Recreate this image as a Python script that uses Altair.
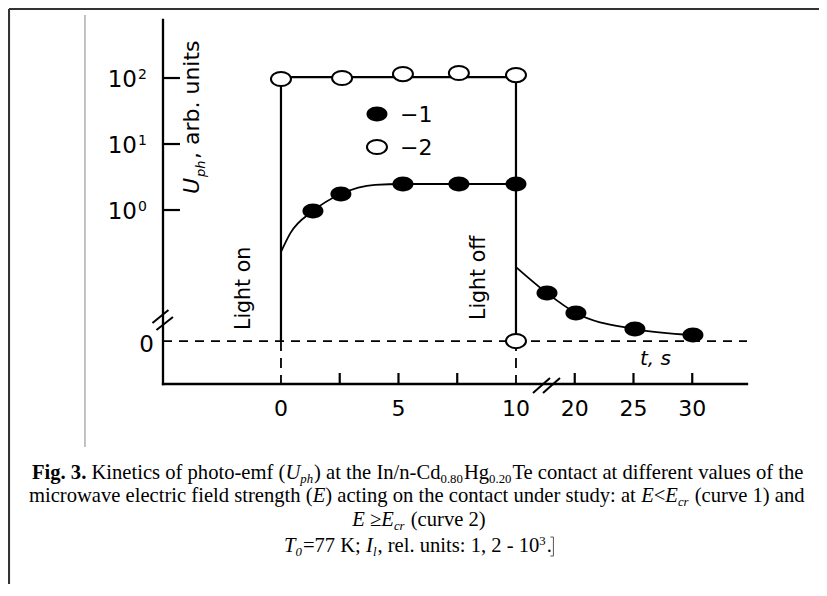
import altair as alt
import pandas as pd

# ---------------- values ----------------
# x: schematic time axis (0..10 s linear, axis break, then 20/25/30 s drawn at 12.5/15/17.5)
# y: schematic U_ph axis in decades (10^0..10^2 -> 0..2); the "0" level sits below a break
ZERO = -1.985
c2_t = [0, 2.6, 5.19, 7.57, 10, 10]                 # curve 2 (open circles)
c2_u = [1.985, 2.0, 2.06, 2.076, 2.045, ZERO]
c2_line_t = [0, 0, 10, 10]
c2_line_u = [ZERO, 2.015, 2.015, ZERO]
c1_t = [1.36, 2.55, 5.19, 7.57, 10, 11.32, 12.55, 15.06, 17.53]   # curve 1 (filled)
c1_u = [-0.015, 0.242, 0.394, 0.394, 0.394, -1.258, -1.561, -1.803, -1.894]
rise_t = [0, 0.4, 1.36, 2.55, 4.0, 5.19, 7.57, 10]
rise_u = [-0.636, -0.35, -0.015, 0.242, 0.38, 0.394, 0.394, 0.394]
decay_t = [10, 11.32, 12.55, 15.06, 17.53]
decay_u = [-0.864, -1.258, -1.561, -1.803, -1.894]
x_label_pos = [0, 5, 10, 12.5, 15, 17.5]
x_label_txt = ["0", "5", "10", "20", "25", "30"]
x_tick_pos = [2.5, 5, 7.5, 12.5, 15, 17.5]
y_tick_pos = [2, 1, 0]
y_tick_exp = ["2", "1", "0"]
legend_lab = ["\u22121", "\u22122"]

# ---------------- scales / helpers ----------------
X_DOMAIN = [-5.02, 19.83]
Y_DOMAIN = [-2.636, 2.879]
xs = alt.Scale(domain=X_DOMAIN, zero=False, nice=False)
ys = alt.Scale(domain=Y_DOMAIN, zero=False, nice=False)

PX0, PXS, PY0, PYS = 281.0, 23.5, 210.0, 66.0
def fx(px): return (px - PX0) / PXS
def fy(py): return (PY0 - py) / PYS

SANS = "DejaVu Sans"
SERIF = "Liberation Serif"
ELL = "M -1 0 A 1 0.71 0 1 0 1 0 A 1 0.71 0 1 0 -1 0 Z"

def X(f="x"): return alt.X(f"{f}:Q", scale=xs, axis=None)
def Y(f="y"): return alt.Y(f"{f}:Q", scale=ys, axis=None)

def segs(rows, width, dash=None, color="black", cap="butt"):
    df = pd.DataFrame(rows, columns=["x", "y", "x2", "y2"])
    kw = dict(color=color, strokeWidth=width, strokeCap=cap)
    if dash:
        kw["strokeDash"] = dash
    return alt.Chart(df).mark_rule(**kw).encode(x=X(), y=Y(), x2="x2:Q", y2="y2:Q")

def path(ts, us, width, interp="linear"):
    df = pd.DataFrame({"x": ts, "y": us, "i": list(range(len(ts)))})
    return alt.Chart(df).mark_line(color="black", strokeWidth=width, interpolate=interp).encode(
        x=X(), y=Y(), order=alt.Order("i:Q"))

def texts(rows, font, align="left", style="normal", weight="normal", angle=0):
    df = pd.DataFrame(rows, columns=["x", "y", "t", "s"])
    return alt.Chart(df).mark_text(font=font, align=align, baseline="alphabetic", fontStyle=style,
                                   fontWeight=weight, angle=angle, color="black").encode(
        x=X(), y=Y(), text="t:N", size=alt.Size("s:Q", scale=None, legend=None))

layers = []
# frame + thin gray line
layers.append(segs([(fx(9), fy(9), fx(840), fy(9)), (fx(9), fy(9), fx(9), fy(610))], 2.2, color="#333333"))
layers.append(segs([(fx(85), fy(15), fx(85), fy(447))], 1.2, color="#9a9a9a"))
# dashed zero level and dashed verticals below it
layers.append(segs([(X_DOMAIN[0], ZERO, X_DOMAIN[1], ZERO)], 1.8, dash=[9, 7]))
layers.append(segs([(0, ZERO, 0, Y_DOMAIN[0]), (10, ZERO, 10, Y_DOMAIN[0])], 1.8, dash=[10, 7]))
# axis lines
layers.append(segs([(X_DOMAIN[0], Y_DOMAIN[0], X_DOMAIN[1], Y_DOMAIN[0]),
                    (X_DOMAIN[0], Y_DOMAIN[0], X_DOMAIN[0], Y_DOMAIN[1])], 2.3, cap="square"))
# inward ticks
layers.append(segs([(X_DOMAIN[0], v, fx(180), v) for v in y_tick_pos], 2.2))
layers.append(segs([(v, Y_DOMAIN[0], v, fy(373)) for v in x_tick_pos], 2.2))
# axis breaks
layers.append(segs([(fx(533), fy(393), fx(550), fy(378)), (fx(543), fy(393), fx(560), fy(378)),
                    (fx(152.5), fy(323), fx(168.5), fy(310)), (fx(156.5), fy(330), fx(173), fy(317))], 2.0))
# curves
layers.append(path(c2_line_t, c2_line_u, 2.2))
layers.append(path(rise_t, rise_u, 1.8, "monotone"))
layers.append(path(decay_t, decay_u, 1.8, "monotone"))

# markers (data + legend markers)
fill_df = pd.DataFrame({"x": c1_t + [fx(377)], "y": c1_u + [fy(114)]})
open_df = pd.DataFrame({"x": c2_t + [fx(377)], "y": c2_u + [fy(147)]})
layers.append(alt.Chart(fill_df).mark_point(shape=ELL, filled=True, size=441, color="black", opacity=1).encode(x=X(), y=Y()))
layers.append(alt.Chart(open_df).mark_point(shape=ELL, filled=True, size=400, fill="white", stroke="black",
                                            strokeWidth=2, opacity=1, fillOpacity=1, strokeOpacity=1).encode(x=X(), y=Y()))

# x tick labels
layers.append(texts([(v, fy(416), s, 22) for v, s in zip(x_label_pos, x_label_txt)], SANS, align="center"))
# y tick labels
layers.append(texts([(fx(137), v + fy(PY0 + 9), "10", 23) for v in y_tick_pos] +
                    [(fx(154), ZERO + fy(PY0 + 11), "0", 23)], SANS, align="right"))
layers.append(texts([(fx(138), v + fy(PY0 + 1), e, 14) for v, e in zip(y_tick_pos, y_tick_exp)], SANS))
# legend text
layers.append(texts([(fx(400), fy(122), legend_lab[0], 22), (fx(400), fy(155), legend_lab[1], 22)], SANS))
# rotated texts
layers.append(texts([(fx(199), fy(159), ", arb. units", 22), (fx(250), fy(330), "Light on", 20.5),
                     (fx(485.5), fy(320), "Light off", 20.5)], SANS, angle=270))
layers.append(texts([(fx(199), fy(194), "U", 22), (fx(205), fy(177), "ph", 13)], SANS, style="italic", angle=270))
layers.append(texts([(fx(640), fy(365), "t, s", 20)], SANS, style="italic"))

# ---------------- caption (rich text laid out with Times metrics) ----------------
TR = {' ': 250, '(': 333, ')': 333, ',': 250, '-': 333, '.': 250, '/': 278, ':': 278, ';': 278, '<': 564,
      '=': 564, '\u2265': 549, 'C': 667, 'E': 611, 'H': 722, 'I': 333, 'K': 722, 'T': 611,
      'a': 444, 'b': 500, 'c': 444, 'd': 500, 'e': 444, 'f': 333, 'g': 500, 'h': 500, 'i': 278, 'l': 278,
      'm': 778, 'n': 500, 'o': 500, 'p': 500, 'r': 333, 's': 389, 't': 278, 'u': 500, 'v': 500, 'w': 722,
      'y': 500}
TB = {'F': 611, 'i': 278, 'g': 500, '.': 250, ' ': 250, '3': 500}
TI = {'U': 722, 'p': 500, 'h': 500, 'E': 611, 'c': 444, 'r': 389, 'T': 556, 'I': 333, 'l': 278}
TABLES = {"r": TR, "b": TB, "i": TI}

def seg_w(t, st, size):
    tb = TABLES[st]
    return sum(tb.get(ch, TR.get(ch, 500)) for ch in t) * size / 1000.0

F = 20.6
cap_lines = [
    ([("Fig. 3.", "b", 1, 0), (" Kinetics of photo-emf (", "r", 1, 0), ("U", "i", 1, 0), ("ph", "i", 0.62, 4),
      (") at the In/n-Cd", "r", 1, 0), ("0.80", "r", 0.62, 4), ("Hg", "r", 1, 0), ("0.20", "r", 0.62, 4),
      ("Te contact at different values of the", "r", 1, 0)], 32, None, 479),
    ([("microwave electric field strength (", "r", 1, 0), ("E", "i", 1, 0),
      (") acting on the contact under study: at ", "r", 1, 0), ("E", "i", 1, 0), ("<", "r", 1, 0),
      ("E", "i", 1, 0), ("cr", "i", 0.62, 4), (" (curve 1) and", "r", 1, 0)], 29, None, 502),
    ([("E", "i", 1, 0), (" \u2265", "r", 1, 0), ("E", "i", 1, 0), ("cr", "i", 0.62, 4),
      (" (curve 2)", "r", 1, 0)], None, 419, 526),
    ([("T", "i", 1, 0), ("0", "i", 0.62, 4), ("=77 K; ", "r", 1, 0), ("I", "i", 1, 0), ("l", "i", 0.62, 4),
      (", rel. units: 1, 2 - 10", "r", 1, 0), ("3", "r", 0.62, -7), (".", "r", 1, 0)], None, 418, 552),
]
cap_rows = {"r": [], "i": [], "b": []}
end_of_last = 0
for segments, x0, cx, by in cap_lines:
    widths = [seg_w(t, st, F * k) + (1.0 if k < 1 else 0) for t, st, k, sh in segments]
    x = x0 if x0 is not None else cx - sum(widths) / 2
    for (t, st, k, sh), w in zip(segments, widths):
        lead = len(t) - len(t.lstrip(' '))
        cap_rows[st].append((fx(x + lead * 0.25 * F * k), fy(by + sh), t.strip(), F * k))
        x += w
    end_of_last = x
layers.append(texts(cap_rows["r"], SERIF))
layers.append(texts(cap_rows["i"], SERIF, style="italic"))
layers.append(texts(cap_rows["b"], SERIF, weight="bold"))
# text-cursor bracket after the last caption line
cx0 = end_of_last + 1.5
layers.append(segs([(fx(cx0), fy(537), fx(cx0), fy(556)), (fx(cx0 - 3), fy(537), fx(cx0), fy(537)),
                    (fx(cx0 - 3), fy(556), fx(cx0), fy(556))], 1.0, color="#555555"))

chart = alt.layer(*layers).properties(
    width=584, height=364,
    autosize=alt.AutoSizeParams(type="none"),
    padding={"left": 155, "top": 12, "right": 72, "bottom": 200},
    background="white",
).configure_view(stroke=None)

chart.save("out.html", embed_options={"renderer": "svg", "actions": False})
